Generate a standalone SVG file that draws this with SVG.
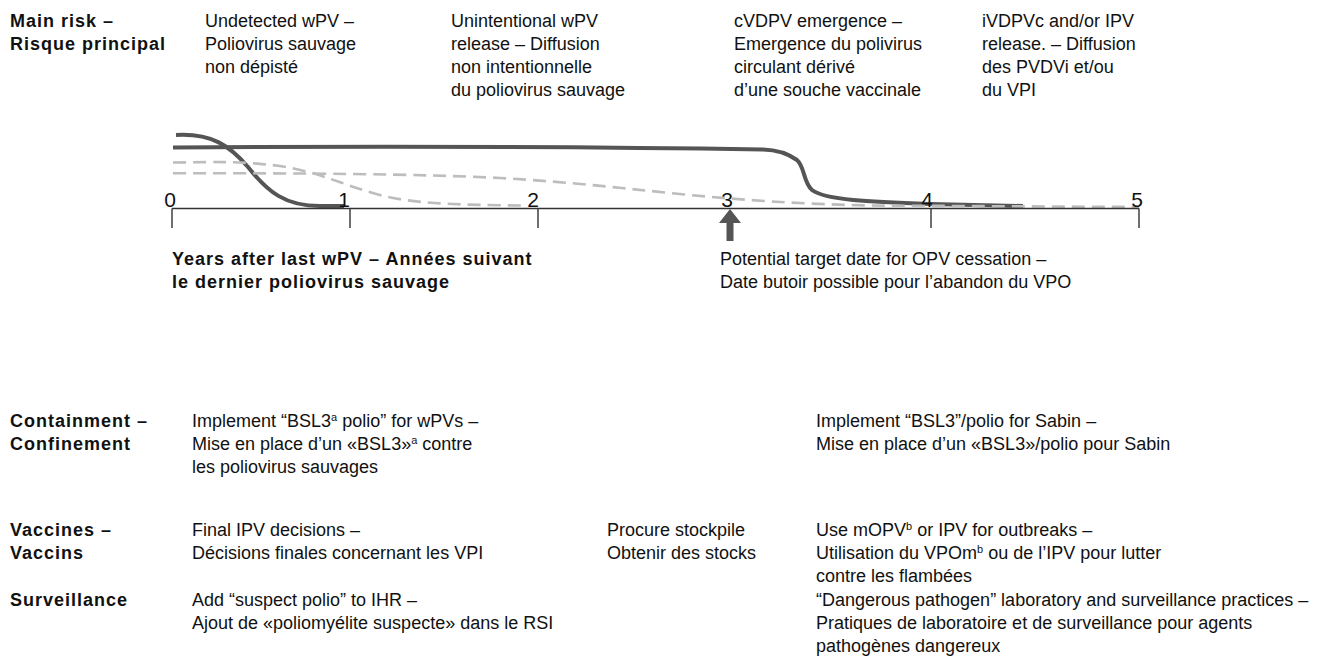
<svg xmlns="http://www.w3.org/2000/svg" width="1319" height="666" viewBox="0 0 1319 666">
<style>
text{font-family:"Liberation Sans",Arial,sans-serif;font-size:18px;fill:#111}
.b{font-weight:bold;letter-spacing:1px}
.num{font-size:21px;text-anchor:end;fill:#111}
.dark{fill:none;stroke:#555;stroke-width:4;stroke-linecap:butt}
.dash{fill:none;stroke:#bdbdbd;stroke-width:2.6;stroke-dasharray:13 7}
.axis{fill:none;stroke:#333;stroke-width:1.4}
.sup{font-size:11px}
</style>
<rect width="1319" height="666" fill="#fff"/>

<g id="main-risk-label"><text class="b" x="10" y="27">Main risk –</text><text class="b" x="10" y="50">Risque principal</text></g>
<g id="risk-undetected"><text x="205" y="27">Undetected wPV –</text><text x="205" y="50">Poliovirus sauvage</text><text x="205" y="73">non dépisté</text></g>
<g id="risk-release"><text x="451" y="27">Unintentional wPV</text><text x="451" y="50">release – Diffusion</text><text x="451" y="73">non intentionnelle</text><text x="451" y="96">du poliovirus sauvage</text></g>
<g id="risk-cvdpv"><text x="734" y="27">cVDPV emergence –</text><text x="734" y="50">Emergence du polivirus</text><text x="734" y="73">circulant dérivé</text><text x="734" y="96">d’une souche vaccinale</text></g>
<g id="risk-ivdpv"><text x="982" y="27">iVDPVc and/or IPV</text><text x="982" y="50">release. – Diffusion</text><text x="982" y="73">des PVDVi et/ou</text><text x="982" y="96">du VPI</text></g>

<g id="curves">
<path class="dark" d="M176,135 C212,133 230,146 248,167 C268,192 285,206 320,206 L344,206"/>
<path class="dark" d="M173,147.5 C400,146 600,147 763,149.5 C780,150 790,155 797,160 C805,167 803,182 812,190 C825,200 870,202 930,204 L1023,206"/>
<path class="dash" d="M173,162.5 C215,162 240,161 280,166 C320,172 345,186 380,195 C410,203 450,205 524,205.5"/>
<path class="dash" d="M173,173.3 C300,173 420,174 500,178 C570,182 620,188 680,194 C740,200 800,204 870,205.5 L1139,207"/>
</g>

<g id="axis">
<path class="axis" d="M172,208.5 H1139 M172,208.5 V228 M350,208.5 V228 M538,208.5 V228 M931,208.5 V228 M1139,208.5 V228"/>
<text class="num" x="176" y="206.5">0</text>
<text class="num" x="350" y="206.5">1</text>
<text class="num" x="539" y="206.5">2</text>
<text class="num" x="733" y="206.5">3</text>
<text class="num" x="933" y="206.5">4</text>
<text class="num" x="1143" y="206.5">5</text>
</g>

<g id="connectors">
<path d="M730,209 L741,223 L733.5,223 L733.5,241 L726.5,241 L726.5,223 L719,223 Z" fill="#555"/>
</g>

<g id="axis-label"><text class="b" x="172" y="265">Years after last wPV – Années suivant</text><text class="b" x="172" y="288">le dernier poliovirus sauvage</text></g>
<g id="target-date"><text x="720" y="265">Potential target date for OPV cessation –</text><text x="720" y="288">Date butoir possible pour l’abandon du VPO</text></g>

<g id="containment-label"><text class="b" x="10" y="427">Containment –</text><text class="b" x="10" y="450">Confinement</text></g>
<g id="containment-wpv"><text x="192" y="427">Implement “BSL3<tspan class="sup" dy="-6">a</tspan><tspan dy="6"> polio” for wPVs –</tspan></text><text x="192" y="450">Mise en place d’un «BSL3»<tspan class="sup" dy="-6">a</tspan><tspan dy="6"> contre</tspan></text><text x="192" y="473">les poliovirus sauvages</text></g>
<g id="containment-sabin"><text x="816" y="427">Implement “BSL3”/polio for Sabin –</text><text x="816" y="450">Mise en place d’un «BSL3»/polio pour Sabin</text></g>

<g id="vaccines-label"><text class="b" x="10" y="536">Vaccines –</text><text class="b" x="10" y="559">Vaccins</text></g>
<g id="vaccines-ipv"><text x="192" y="536">Final IPV decisions –</text><text x="192" y="559">Décisions finales concernant les VPI</text></g>
<g id="vaccines-stockpile"><text x="607" y="536">Procure stockpile</text><text x="607" y="559">Obtenir des stocks</text></g>
<g id="vaccines-mopv"><text x="816" y="536">Use mOPV<tspan class="sup" dy="-6">b</tspan><tspan dy="6"> or IPV for outbreaks –</tspan></text><text x="816" y="559">Utilisation du VPOm<tspan class="sup" dy="-6">b</tspan><tspan dy="6"> ou de l’IPV pour lutter</tspan></text><text x="816" y="582">contre les flambées</text></g>

<g id="surveillance-label"><text class="b" x="10" y="606">Surveillance</text></g>
<g id="surveillance-ihr"><text x="192" y="606">Add “suspect polio” to IHR –</text><text x="192" y="629">Ajout de «poliomyélite suspecte» dans le RSI</text></g>
<g id="surveillance-pathogen"><text x="816" y="606">“Dangerous pathogen” laboratory and surveillance practices –</text><text x="816" y="629">Pratiques de laboratoire et de surveillance pour agents</text><text x="816" y="652">pathogènes dangereux</text></g>
</svg>
